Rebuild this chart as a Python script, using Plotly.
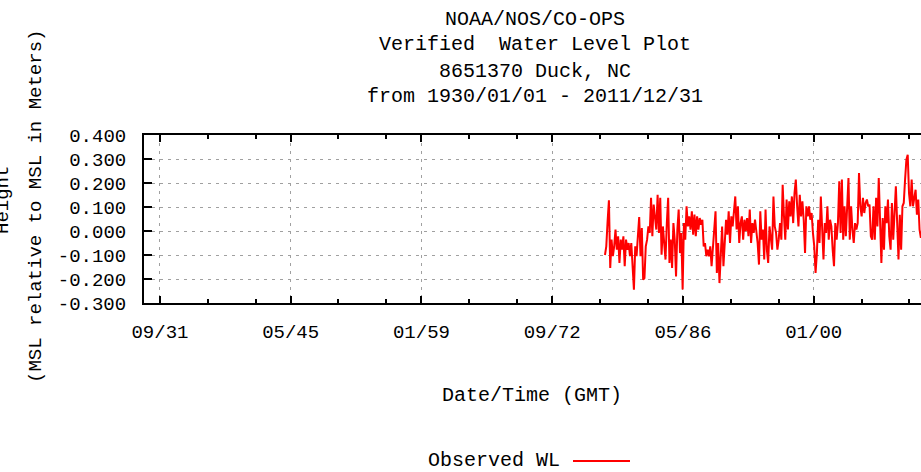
import pandas as pd
import plotly.graph_objects as go

# Monthly-ish observed water level (m, relative to MSL), 1978 - 2011
water_level = [
    -0.100, -0.064, 0.040, 0.128, -0.154, -0.036, -0.105, -0.064, 0.006, -0.078,
    -0.022, -0.133, -0.036, -0.078, -0.022, -0.147, -0.036, -0.078, -0.050, -0.105,
    -0.050, -0.175, -0.245, -0.064, -0.105, -0.022, 0.058, -0.105, 0.012, -0.203,
    -0.196, -0.064, -0.036, 0.019, -0.008, 0.138, -0.022, 0.110,
    0.047, 0.006, 0.151, -0.008, 0.138, -0.099, 0.019, -0.064, -0.119, 0.033,
    0.138, -0.133, -0.036, -0.154, 0.033, -0.036, -0.189, 0.006, 0.089, -0.092,
    -0.008, -0.244, 0.033, -0.036, 0.103, 0.019, 0.061, 0.006, 0.082, -0.015,
    0.068, -0.022, 0.061, 0.006, 0.054, 0.026, 0.047, -0.064, -0.050, -0.105,
    -0.078, -0.105, -0.064, -0.147, -0.078, 0.019, 0.082, -0.175, -0.050, -0.217,
    -0.078, 0.019, -0.147, -0.036, 0.047, -0.015, 0.082, -0.050, 0.061, 0.019,
    0.068, 0.144, 0.006, 0.103, -0.050, 0.033, 0.061, -0.036, 0.047, -0.001,
    0.054, -0.022, 0.089, -0.050, 0.033, -0.008, 0.047, 0.006, -0.050, -0.140,
    0.082,
    -0.036, 0.006, -0.119, 0.089, -0.078, -0.133, 0.019, -0.022, -0.078, 0.144,
    0.019, -0.008, -0.078, -0.036, 0.033, -0.036, 0.193, 0.061, -0.036, 0.131,
    0.006, 0.124, 0.061, 0.144, 0.033, 0.158, 0.214, 0.103, 0.019, 0.151,
    0.061, 0.124, 0.047, -0.092, 0.103, 0.061, 0.103, 0.047, 0.075, -0.008,
    -0.064, -0.175,
    -0.092, 0.047, -0.050, 0.144, -0.008, -0.119, 0.033, -0.008, 0.103, -0.036,
    0.047, 0.019, -0.078, -0.147, 0.033, -0.036, 0.033, 0.207, -0.008, 0.214,
    -0.036, 0.103, -0.022, 0.082, 0.221, -0.036, 0.103, 0.006, -0.050, 0.033,
    0.006, 0.033, 0.242, 0.103, 0.061, 0.138, 0.075, 0.117,
    0.131, 0.103, 0.110, -0.022, -0.036, 0.103, -0.036, 0.138, 0.019, 0.221,
    0.019, -0.133, 0.054, -0.078, 0.103, 0.033, 0.131, -0.022, -0.078, 0.117,
    -0.036, 0.061, 0.186, 0.033, -0.119, 0.068, -0.078, 0.103, 0.117, 0.214,
    0.297, 0.318, 0.158, 0.103, 0.214, 0.103, 0.131, 0.172, 0.068, 0.131,
    0.006, -0.029,
]
obs_start = "1978-03-08"
obs_end = "2011-03-15"

# Axis ticks
x_major_dates = ["1931-09-01", "1945-05-01", "1959-01-01", "1972-09-01", "1986-05-01", "2000-01-01"]
x_major_labels = ["09/31", "05/45", "01/59", "09/72", "05/86", "01/00"]
x_minor_dates = ["1936-09-01", "1941-09-01", "1950-05-01", "1955-05-01", "1964-01-01", "1969-01-01",
                 "1977-09-01", "1982-09-01", "1991-05-01", "1996-05-01", "2005-01-01", "2010-01-01"]
y_ticks = [-0.3, -0.2, -0.1, 0.0, 0.1, 0.2, 0.3, 0.4]
y_labels = ["-0.300", "-0.200", "-0.100", "0.000", "0.100", "0.200", "0.300", "0.400"]

title_lines = ["NOAA/NOS/CO-OPS", "Verified  Water Level Plot", "8651370 Duck, NC",
               "from 1930/01/01 - 2011/12/31"]
x_title = "Date/Time (GMT)"
y_title_lines = ["Height", "(MSL relative to MSL in Meters)"]
series_name = "Observed WL"

FONT = "Liberation Mono"
W, H = 921, 472
L, T, B = 144, 135, 169
PW, PH = W - L, H - T - B


def px(x):
    return (x - L) / PW


def py(y):
    return (H - B - y) / PH


dates = pd.date_range(obs_start, obs_end, periods=len(water_level))

fig = go.Figure()
fig.add_trace(go.Scatter(x=dates, y=water_level, mode="lines", name=series_name,
                         line=dict(color="#ff0000", width=2), showlegend=False))

annotations = []
for i, line in enumerate(title_lines):
    annotations.append(dict(text=line, x=px(535), y=py(19 + 26 * i), xref="paper", yref="paper",
                            xanchor="center", yanchor="middle", showarrow=False,
                            font=dict(family=FONT, size=20, color="black")))
annotations.append(dict(text=x_title, x=px(532), y=py(395), xref="paper", yref="paper",
                        xanchor="center", yanchor="middle", showarrow=False,
                        font=dict(family=FONT, size=20, color="black")))
annotations.append(dict(text=y_title_lines[1], x=px(36), y=py(207), xref="paper", yref="paper",
                        xanchor="center", yanchor="middle", textangle=-90, showarrow=False,
                        font=dict(family=FONT, size=19, color="black")))
annotations.append(dict(text=y_title_lines[0], x=px(3), y=py(200), xref="paper", yref="paper",
                        xanchor="center", yanchor="middle", textangle=-90, showarrow=False,
                        font=dict(family=FONT, size=19, color="black")))
annotations.append(dict(text=series_name, x=px(562), y=py(460), xref="paper", yref="paper",
                        xanchor="right", yanchor="middle", showarrow=False,
                        font=dict(family=FONT, size=20, color="black")))

fig.update_layout(
    width=W, height=H, autosize=False,
    margin=dict(l=L, r=0, t=T, b=B, pad=0),
    paper_bgcolor="white", plot_bgcolor="white",
    showlegend=False,
    annotations=annotations,
    shapes=[dict(type="line", xref="paper", yref="paper", x0=px(573), x1=px(630),
                 y0=py(461), y1=py(461), line=dict(color="#ff0000", width=2))],
    font=dict(family=FONT, size=19, color="black"),
)

fig.update_xaxes(
    type="date", range=["1930-01-01", "2011-03-20"],
    tickmode="array", tickvals=x_major_dates, ticktext=x_major_labels,
    ticks="inside", ticklen=7, tickwidth=1.5, tickcolor="black",
    showline=True, linecolor="black", linewidth=2, mirror="ticks",
    showgrid=True, gridcolor="#a0a0a0", gridwidth=1, griddash="3px,5px",
    zeroline=False, ticklabelstandoff=10,
    tickfont=dict(family=FONT, size=19, color="black"),
    minor=dict(tickmode="array", tickvals=x_minor_dates, ticks="inside", ticklen=4,
               tickwidth=1.5, tickcolor="black", showgrid=False),
)
fig.update_yaxes(
    range=[-0.3, 0.4],
    tickmode="array", tickvals=y_ticks, ticktext=y_labels,
    ticks="inside", ticklen=8, tickwidth=1.5, tickcolor="black",
    showline=True, linecolor="black", linewidth=2,
    showgrid=True, gridcolor="#a0a0a0", gridwidth=1, griddash="3px,5px",
    zeroline=False, ticklabelstandoff=12,
    tickfont=dict(family=FONT, size=19, color="black"),
)

fig.write_html("out.html", config={"displayModeBar": False})
